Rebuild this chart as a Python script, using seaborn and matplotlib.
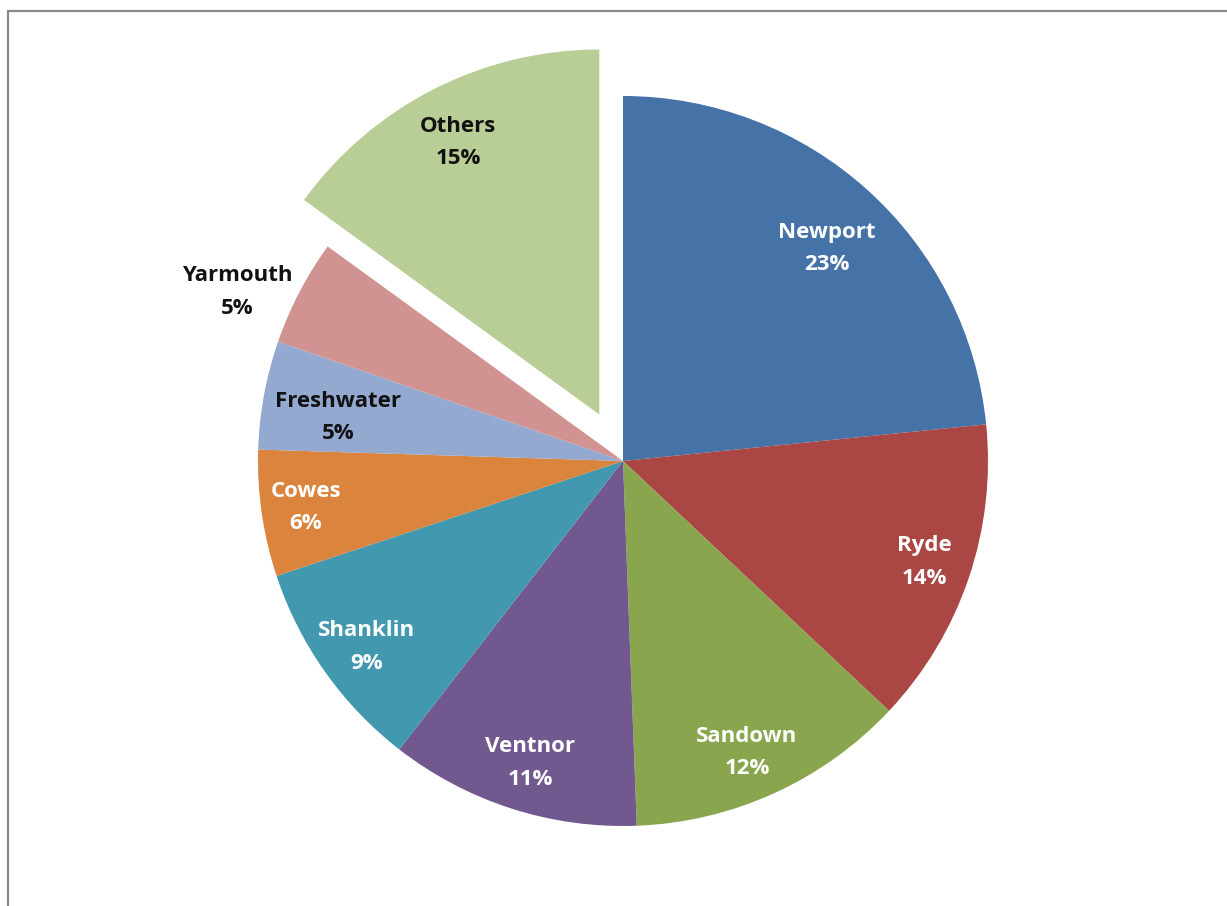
import numpy as np
import matplotlib
matplotlib.use("Agg")
import matplotlib.pyplot as plt
from matplotlib.patches import Rectangle
import seaborn as sns

# Share of listings by town (percent)
towns = ["Newport", "Ryde", "Sandown", "Ventnor", "Shanklin",
         "Cowes", "Freshwater", "Yarmouth", "Others"]
shares = [23.4, 13.6, 12.4, 11.1, 9.4, 5.6, 4.8, 4.7, 15.0]

colors = ["#4572A7", "#AA4643", "#89A54E", "#71588F", "#4198AF",
          "#DB843D", "#93A9CF", "#D19392", "#B9CD96"]
label_colors = ["white", "white", "white", "white", "white",
                "white", "#111111", "#111111", "#111111"]
# label placement: radial distance (fraction of radius) and angular nudge (deg)
label_radius = [0.808, 0.872, 0.867, 0.866, 0.867, 0.878, 0.79, 1.154, 0.839]
label_turn = [-1.7, 0.2, -1.4, 0.7, 0.7, 0.1, 1.8, 3.9, 0.4]
explode = [0, 0, 0, 0, 0, 0, 0, 0, 0.143]

sns.set_theme(style="white")
plt.rcParams["font.family"] = ["Open Sans", "DejaVu Sans"]

W, H = 1227, 906
fig = plt.figure(figsize=(W / 100, H / 100), dpi=100)
fig.patch.set_facecolor("white")

# square axes: pie centre at (623, 461) px from top-left, radius 365 px
R = 365
lim = 1.3
side = 2 * lim * R
cx, cy = 623, H - 461
ax = fig.add_axes([(cx - side / 2) / W, (cy - side / 2) / H, side / W, side / H])

wedges, _ = ax.pie(shares, colors=sns.color_palette(colors), startangle=90,
                   counterclock=False, explode=explode, radius=1.0,
                   wedgeprops=dict(linewidth=0, edgecolor="none"))
ax.set_xlim(-lim, lim)
ax.set_ylim(-lim, lim)
ax.set_aspect("equal")
ax.axis("off")

for w, name, val, col, rf, turn in zip(wedges, towns, shares, label_colors,
                                       label_radius, label_turn):
    ang = np.deg2rad((w.theta1 + w.theta2) / 2 + turn)
    ox, oy = w.center
    x = ox + rf * np.cos(ang)
    y = oy + rf * np.sin(ang)
    ax.text(x, y, f"{name}\n{val:.0f}%", ha="center", va="center",
            color=col, fontsize=16, fontweight="bold", linespacing=1.7)

# chart frame
fig.add_artist(Rectangle((7.5 / W, -0.05), 1.2, (H - 11.5) / H + 0.05,
                         transform=fig.transFigure, fill=False,
                         edgecolor="#8a8a8a", linewidth=1.6))

fig.savefig("out.png", dpi=100)
